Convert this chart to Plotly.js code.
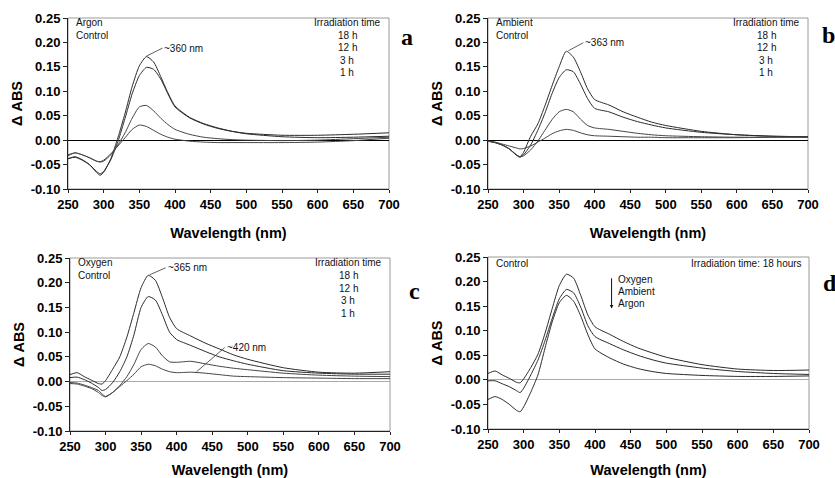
<!DOCTYPE html>
<html><head><meta charset="utf-8">
<script src="https://cdn.plot.ly/plotly-3.0.1.min.js"></script>
<style>html,body{margin:0;padding:0;background:#fff}#chart{width:835px;height:478px}</style>
</head><body><div id="chart"></div>
<script>
// Wavelength grid (nm)
const wl = [250,260,270,280,290,295,300,310,320,330,340,350,360,370,380,390,400,420,440,460,480,500,550,600,650,700];

// Panel a: Argon
const argon18 = [-0.038,-0.034,-0.040,-0.050,-0.066,-0.072,-0.066,-0.038,0.005,0.055,0.110,0.152,0.171,0.160,0.130,0.097,0.070,0.047,0.034,0.025,0.018,0.013,0.007,0.005,0.006,0.008];
const argon12 = [-0.038,-0.035,-0.041,-0.050,-0.064,-0.069,-0.064,-0.040,-0.003,0.045,0.095,0.132,0.149,0.145,0.125,0.095,0.068,0.046,0.033,0.024,0.018,0.014,0.010,0.010,0.012,0.015];
const argon3  = [-0.030,-0.026,-0.030,-0.036,-0.043,-0.045,-0.043,-0.030,-0.010,0.015,0.045,0.068,0.071,0.060,0.045,0.032,0.022,0.012,0.006,0.003,0.001,0.000,-0.001,0.000,0.003,0.006];
const argon1  = [-0.032,-0.026,-0.030,-0.036,-0.043,-0.044,-0.041,-0.028,-0.012,0.005,0.022,0.031,0.028,0.020,0.012,0.006,0.002,-0.002,-0.004,-0.005,-0.005,-0.005,-0.005,-0.004,-0.001,0.004];

// Panel b: Ambient
const ambient18 = [-0.002,-0.005,-0.010,-0.018,-0.030,-0.034,-0.025,0.008,0.033,0.070,0.111,0.150,0.182,0.170,0.140,0.105,0.083,0.072,0.058,0.047,0.037,0.030,0.018,0.011,0.008,0.007];
const ambient12 = [-0.002,-0.005,-0.010,-0.018,-0.031,-0.035,-0.030,-0.010,0.020,0.055,0.095,0.128,0.144,0.140,0.115,0.085,0.065,0.058,0.047,0.038,0.031,0.025,0.016,0.011,0.008,0.007];
const ambient3  = [-0.002,-0.005,-0.010,-0.018,-0.030,-0.034,-0.032,-0.020,-0.002,0.020,0.042,0.058,0.063,0.058,0.043,0.030,0.025,0.022,0.018,0.014,0.011,0.009,0.007,0.006,0.006,0.006];
const ambient1  = [-0.002,-0.004,-0.008,-0.012,-0.016,-0.018,-0.017,-0.012,-0.004,0.004,0.013,0.019,0.022,0.020,0.015,0.011,0.009,0.008,0.007,0.006,0.006,0.005,0.005,0.005,0.006,0.006];

// Panel c: Oxygen
const oxygen18 = [0.014,0.018,0.010,0.003,-0.004,-0.005,0.002,0.025,0.050,0.090,0.140,0.190,0.215,0.205,0.170,0.130,0.107,0.092,0.078,0.066,0.054,0.045,0.028,0.019,0.017,0.020];
const oxygen12 = [0.008,0.009,0.004,-0.003,-0.012,-0.018,-0.016,-0.002,0.020,0.050,0.095,0.150,0.172,0.165,0.135,0.100,0.085,0.073,0.061,0.050,0.042,0.035,0.022,0.017,0.015,0.015];
const oxygen3  = [-0.002,-0.003,-0.007,-0.012,-0.018,-0.025,-0.030,-0.022,-0.008,0.010,0.035,0.065,0.077,0.070,0.052,0.040,0.039,0.041,0.036,0.031,0.027,0.024,0.017,0.013,0.011,0.010];
const oxygen1  = [-0.004,-0.005,-0.009,-0.014,-0.022,-0.028,-0.031,-0.022,-0.010,0.002,0.015,0.030,0.035,0.032,0.025,0.020,0.018,0.019,0.017,0.014,0.011,0.010,0.008,0.007,0.006,0.006];

// Panel d: 18 h under each atmosphere
const dOxygen  = [0.013,0.018,0.010,0.003,-0.005,-0.006,0.002,0.025,0.052,0.095,0.145,0.192,0.215,0.207,0.172,0.132,0.108,0.093,0.078,0.065,0.055,0.046,0.031,0.022,0.019,0.020];
const dAmbient = [-0.002,-0.002,-0.008,-0.014,-0.022,-0.026,-0.017,0.010,0.040,0.080,0.125,0.165,0.184,0.177,0.148,0.110,0.088,0.074,0.061,0.050,0.041,0.034,0.024,0.017,0.013,0.011];
const dArgon   = [-0.040,-0.034,-0.040,-0.050,-0.062,-0.065,-0.055,-0.025,0.010,0.065,0.118,0.157,0.172,0.160,0.130,0.092,0.063,0.045,0.032,0.023,0.017,0.013,0.009,0.007,0.007,0.008];

const xTicks = [250,300,350,400,450,500,550,600,650,700];
const yTicks = [-0.10,-0.05,0.00,0.05,0.10,0.15,0.20,0.25];
const timeLabels = ['18 h','12 h','3 h','1 h'];

const lineCol = '#2a2a2a';
function tr(y, ax, col){
  return {x: wl, y: y, xaxis: 'x'+ax, yaxis: 'y'+ax, type:'scatter', mode:'lines',
    line:{color: col||lineCol, width:1, shape:'spline', smoothing:0.6}, hoverinfo:'skip', showlegend:false};
}
const data = [
  tr(argon18,''), tr(argon12,''), tr(argon3,'','#444'), tr(argon1,'','#444'),
  tr(ambient18,'2'), tr(ambient12,'2'), tr(ambient3,'2','#444'), tr(ambient1,'2','#444'),
  tr(oxygen18,'3'), tr(oxygen12,'3'), tr(oxygen3,'3','#444'), tr(oxygen1,'3','#444'),
  tr(dOxygen,'4'), tr(dAmbient,'4'), tr(dArgon,'4')
];

const tickFont = {family:'Liberation Sans, Arial, sans-serif', size:13, color:'#000', weight:'bold'};
const titleFont = {family:'Liberation Sans, Arial, sans-serif', size:14.5, color:'#000', weight:'bold'};
function xa(dom, anchor){
  return {domain: dom, anchor: anchor, range:[250,700], tickvals: xTicks, ticktext: xTicks.map(String),
    showgrid:false, zeroline:false, showline:true, linecolor:'#222', linewidth:1,
    ticks:'outside', ticklen:3, tickcolor:'#222', tickfont: tickFont,
    title:{text:'Wavelength (nm)', font:titleFont, standoff:17}};
}
function ya(dom, anchor, zc){
  return {domain: dom, anchor: anchor, range:[-0.10,0.25], tickvals: yTicks, ticktext: yTicks.map(v=>v.toFixed(2)),
    showgrid:false, zeroline:true, zerolinecolor: zc, zerolinewidth:1, showline:true, linecolor:'#222', linewidth:1,
    ticks:'outside', ticklen:4, tickcolor:'#222', tickfont: tickFont,
    title:{text:'\u0394 ABS', font:titleFont, standoff:4}};
}
const small = {family:'Liberation Sans, Arial, sans-serif', size:10, color:'#111'};
const letter = {family:'Liberation Serif, Times New Roman, serif', size:24, color:'#000', weight:'bold'};

function boxShape(ax){
  const xr = ax===''?'x':'x'+ax, yr = ax===''?'y':'y'+ax;
  return {type:'rect', xref: xr+' domain', yref: yr+' domain', x0:0, x1:1, y0:0, y1:1, line:{color:'#9a9a9a', width:1}, layer:'below'};
}

const ann = [];
function txt(xr, yr, x, y, text, xanchor, font){
  ann.push({xref:xr, yref:yr, x:x, y:y, text:text, showarrow:false, xanchor:xanchor||'left', yanchor:'middle', font: font||small, align:'center'});
}
function panelNotes(ax, cond){
  const xr = (ax===''?'x':'x'+ax)+' domain', yr = (ax===''?'y':'y'+ax)+' domain';
  txt(xr, yr, 0.02, 0.972, cond, 'left');
  txt(xr, yr, 0.02, 0.897, 'Control', 'left');
  txt(xr, yr, 0.87, 0.972, 'Irradiation time', 'center');
  timeLabels.forEach((t,i)=> txt(xr, yr, 0.87, 0.897 - i*0.072, t, 'center'));
}
panelNotes('', 'Argon');
panelNotes('2', 'Ambient');
panelNotes('3', 'Oxygen');
txt('x4 domain','y4 domain',0.02,0.965,'Control','left');
txt('x4 domain','y4 domain',0.985,0.965,'Irradiation time: 18 hours','right');
txt('x4 domain','y4 domain',0.40,0.87,'Oxygen','left');
txt('x4 domain','y4 domain',0.40,0.80,'Ambient','left');
txt('x4 domain','y4 domain',0.40,0.73,'Argon','left');
ann.push({xref:'x4 domain', yref:'y4 domain', x:0.385, y:0.70, ax:0.385, ay:0.885, axref:'x4 domain', ayref:'y4 domain',
  showarrow:true, arrowhead:2, arrowsize:0.7, arrowwidth:1, arrowcolor:'#111', text:''});

// Peak pointers
function pointer(ax, x, y, text, dx, dy){
  ann.push({xref: ax===''?'x':'x'+ax, yref: ax===''?'y':'y'+ax, x:x, y:y, text:text, showarrow:true, arrowhead:0,
    arrowwidth:0.8, arrowcolor:'#333', ax:dx, ay:dy, xanchor:'left', yanchor:'middle', font: small});
}
pointer('', 360, 0.172, '~360 nm', 16, -8);
pointer('2', 363, 0.183, '~363 nm', 15, -8);
pointer('3', 362, 0.216, '~365 nm', 16, -7);
pointer('3', 428, 0.020, '~420 nm', 28, -24);

// Panel letters
ann.push({xref:'paper', yref:'paper', x:407/835, y:1-37/478, text:'a', showarrow:false, font:letter, xanchor:'center', yanchor:'middle'});
ann.push({xref:'paper', yref:'paper', x:828/835, y:1-35/478, text:'b', showarrow:false, font:letter, xanchor:'center', yanchor:'middle'});
ann.push({xref:'paper', yref:'paper', x:414/835, y:1-291/478, text:'c', showarrow:false, font:letter, xanchor:'center', yanchor:'middle'});
ann.push({xref:'paper', yref:'paper', x:830/835, y:1-283/478, text:'d', showarrow:false, font:letter, xanchor:'center', yanchor:'middle'});

const layout = {
  width:835, height:478, margin:{l:0,r:0,t:0,b:0}, paper_bgcolor:'#fff', plot_bgcolor:'#fff', showlegend:false,
  xaxis: xa([68/835, 389/835], 'y'),
  yaxis: ya([(478-189)/478, (478-18)/478], 'x', '#000'),
  xaxis2: xa([488/835, 808/835], 'y2'),
  yaxis2: ya([(478-189)/478, (478-18)/478], 'x2', '#000'),
  xaxis3: xa([70/835, 390/835], 'y3'),
  yaxis3: ya([(478-431)/478, (478-258)/478], 'x3', '#aaa'),
  xaxis4: xa([488/835, 809/835], 'y4'),
  yaxis4: ya([(478-429)/478, (478-257)/478], 'x4', '#aaa'),
  shapes: [boxShape(''), boxShape('2'), boxShape('3'), boxShape('4')],
  annotations: ann
};
Plotly.newPlot('chart', data, layout, {staticPlot:true, displayModeBar:false});
</script></body></html>
